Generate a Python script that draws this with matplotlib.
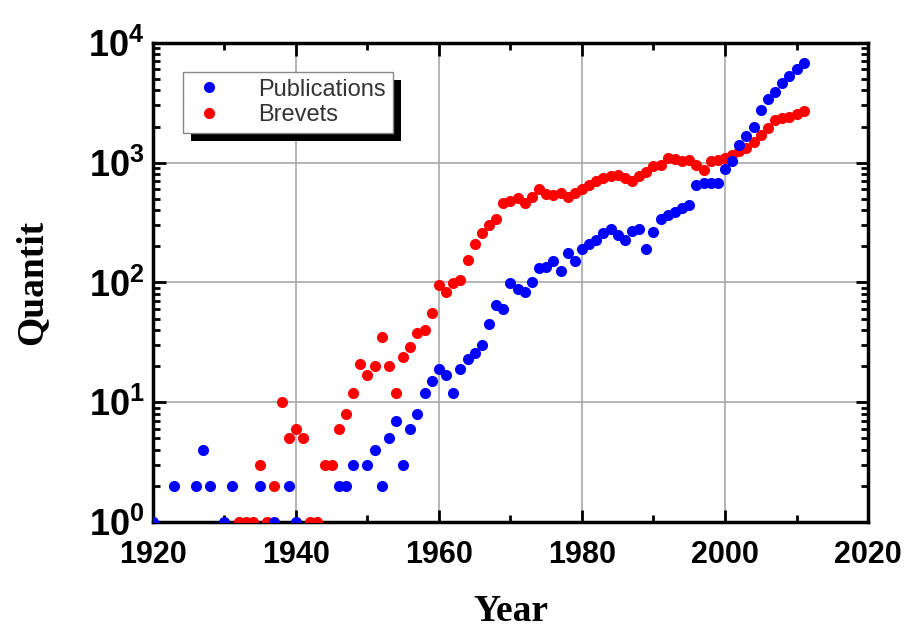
import matplotlib
matplotlib.use("Agg")
import matplotlib.pyplot as plt
from matplotlib.patches import Rectangle
from matplotlib.ticker import MultipleLocator, LogLocator, NullFormatter

plt.rcParams['mathtext.fontset'] = 'custom'
plt.rcParams['mathtext.rm'] = 'Liberation Sans'
plt.rcParams['mathtext.bf'] = 'Liberation Sans:bold'

# Publications (blue)
pub_years = [1920, 1923, 1926, 1927, 1928, 1930, 1931, 1935, 1937, 1939, 1940,
             1946, 1947, 1948, 1950, 1951, 1952, 1953, 1954, 1955, 1956, 1957,
             1958, 1959, 1960, 1961, 1962, 1963, 1964, 1965, 1966, 1967, 1968,
             1969, 1970, 1971, 1972, 1973, 1974, 1975, 1976, 1977, 1978, 1979,
             1980, 1981, 1982, 1983, 1984, 1985, 1986, 1987, 1988, 1989, 1990,
             1991, 1992, 1993, 1994, 1995, 1996, 1997, 1998, 1999, 2000, 2001,
             2002, 2003, 2004, 2005, 2006, 2007, 2008, 2009, 2010, 2011]
pub_counts = [1, 2, 2, 4, 2, 1, 2, 2, 1, 2, 1,
              2, 2, 3, 3, 4, 2, 5, 7, 3, 6, 8,
              12, 15, 19, 17, 12, 19, 23, 26, 30, 45, 65,
              60, 99, 89, 84, 100, 132, 135, 150, 125, 175, 150,
              190, 210, 226, 260, 280, 250, 226, 270, 280, 190, 265,
              337, 365, 390, 420, 440, 650, 670, 680, 670, 890, 1030,
              1400, 1660, 1970, 2760, 3400, 3900, 4600, 5300, 6100, 6800]

# Brevets (red)
brev_years = [1932, 1933, 1934, 1935, 1936, 1937, 1938, 1939, 1940, 1941,
              1942, 1943, 1944, 1945] + list(range(1946, 2012))
brev_counts = [1, 1, 1, 3, 1, 2, 10, 5, 6, 5,
               1, 1, 3, 3,
               6, 8, 12, 21, 17, 20, 35, 20, 12, 24,
               29, 38, 40, 56, 95,
               84, 99, 105, 154, 208, 260, 300, 337, 458, 480,
               506, 464, 520, 600, 550, 540, 560, 520, 560, 600,
               650, 700, 750, 780, 790, 740, 700, 780, 840, 930,
               960, 1100, 1080, 1030, 1060, 950, 870, 1030, 1060, 1100,
               1150, 1250, 1330, 1500, 1700, 1950, 2250, 2350, 2400, 2550, 2700]

fig = plt.figure(figsize=(9.21, 6.39), dpi=100)
ax = fig.add_axes([0.166, 0.183, 0.7765, 0.75])

ax.plot(brev_years, brev_counts, 'o', color='#ff0000', ms=8, mec='none',
        label='Brevets', zorder=3)
ax.plot(pub_years, pub_counts, 'o', color='#0000ff', ms=8, mec='none',
        label='Publications', zorder=4)

ax.set_yscale('log')
ax.set_xlim(1920, 2020)
ax.set_ylim(1, 1e4)

ax.xaxis.set_major_locator(MultipleLocator(20))
ax.xaxis.set_minor_locator(MultipleLocator(10))
ax.yaxis.set_major_locator(LogLocator(base=10))
ax.yaxis.set_minor_locator(LogLocator(base=10, subs=range(2, 10)))
ax.yaxis.set_minor_formatter(NullFormatter())

ax.set_yticks([1, 10, 100, 1000, 10000])
ax.set_yticklabels([r'$\mathbf{10^{%d}}$' % i for i in range(5)])
ax.set_xticks([1920, 1940, 1960, 1980, 2000, 2020])
ax.set_xticklabels(['1920', '1940', '1960', '1980', '2000', '2020'])

ax.tick_params(which='both', direction='in', top=True, right=True, width=2)
ax.tick_params(which='major', length=9)
ax.tick_params(which='minor', length=5)
ax.tick_params(axis='x', which='major', pad=13)
ax.tick_params(axis='y', which='major', pad=6)
for lbl in ax.get_xticklabels():
    lbl.set_fontfamily('Liberation Sans')
    lbl.set_fontweight('bold')
    lbl.set_fontsize(22)
for lbl in ax.get_yticklabels():
    lbl.set_fontfamily('Liberation Sans')
    lbl.set_fontweight('bold')
    lbl.set_fontsize(26)

for sp in ax.spines.values():
    sp.set_linewidth(2.5)

ax.grid(True, which='major', color='#a8a8a8', linewidth=1.2)
ax.set_axisbelow(True)

ax.set_xlabel('Year', fontfamily='Liberation Serif', fontweight='bold',
              fontsize=27, labelpad=17)
ax.set_ylabel('Quantit', fontfamily='Liberation Serif', fontweight='bold',
              fontsize=27, labelpad=28)

handles, labels = ax.get_legend_handles_labels()
leg = ax.legend(handles[::-1], labels[::-1], loc='upper left',
                bbox_to_anchor=(0.042, 0.94), borderaxespad=0,
                fancybox=False, edgecolor='#888888', framealpha=1,
                prop={'family': 'Liberation Sans', 'size': 17},
                handletextpad=1.3, borderpad=0.3, labelspacing=0.15,
                handlelength=1.6)
for t in leg.get_texts():
    t.set_color('#333333')
leg.get_frame().set_linewidth(1.0)
leg.set_zorder(6)

# black drop shadow behind the legend box
fig.canvas.draw()
bb = leg.get_window_extent().transformed(fig.transFigure.inverted())
dx, dy = 8 / 921, 8 / 639
shadow = Rectangle((bb.x0 + dx, bb.y0 - dy), bb.width, bb.height,
                   transform=fig.transFigure, facecolor='black',
                   edgecolor='none', zorder=5.5, clip_on=False)
ax.add_patch(shadow)

plt.savefig('out.png', dpi=100)
plt.close()
